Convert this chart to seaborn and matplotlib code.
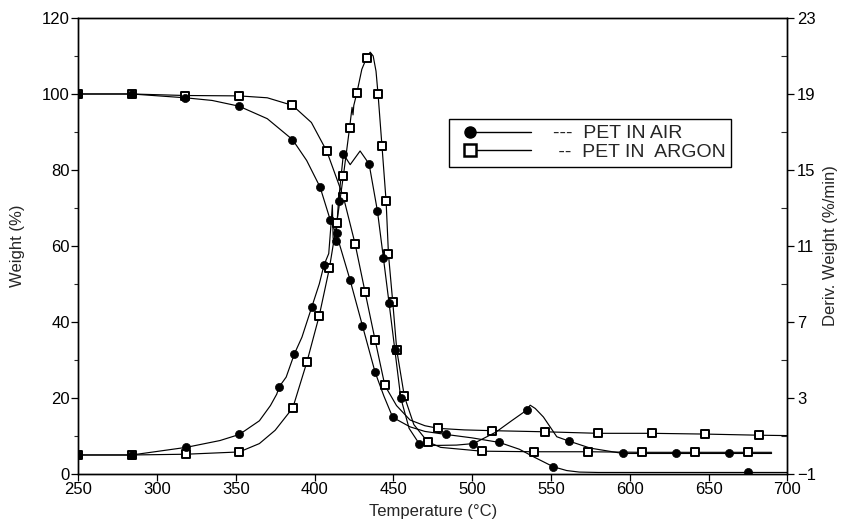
import matplotlib
matplotlib.use("Agg")
import numpy as np
import matplotlib.pyplot as plt
from matplotlib.lines import Line2D
from matplotlib.legend_handler import HandlerLine2D
from matplotlib.ticker import MultipleLocator
import seaborn as sns

# ---- traced curves (temperature in °C) ----
# weight loss, PET in air (%)
air_wt_T = [250, 284, 318, 335, 352, 370, 386, 395, 403.5, 410, 414, 422.5, 430.4, 438.4,
            444, 449.6, 460.6, 470, 483.4, 500, 517.3, 530, 540, 551.5, 560, 568, 580, 620, 675, 700]
air_wt = [100, 100, 99.0, 98.3, 96.8, 93.5, 88, 82.5, 75.5, 66.8, 63.0, 51.1, 39.0, 26.8,
          20.5, 14.9, 12.4, 11.2, 10.4, 9.5, 8.3, 6.5, 4.3, 1.9, 0.9, 0.5, 0.4, 0.4, 0.4, 0.4]

# weight loss, PET in argon (%)
arg_wt_T = [250, 284, 318, 352, 370, 386, 398, 407.8, 418.3, 425.7, 432, 438.4, 444.6, 452,
            460.6, 470, 478.6, 495, 512.4, 546.3, 580, 614, 647.8, 682.3, 700]
arg_wt = [100, 100, 99.6, 99.5, 99.0, 97, 92.5, 84.9, 72.9, 60.6, 48, 35.3, 23.3, 18.0,
          14.2, 12.7, 12.0, 11.6, 11.4, 11.1, 10.7, 10.7, 10.5, 10.2, 10.1]

# derivative weight, PET in air (%/min)
air_dw_T = [250, 284, 318.5, 340, 352.3, 365, 372, 376, 377.5, 382, 387.2, 392, 398.2, 403,
            406, 409, 410.5, 411.3, 411.8, 413.5, 415.2, 418.3, 422.6, 428.9, 434.6, 439.9,
            443.7, 447.3, 451, 454.7, 460, 466.5, 475, 490, 500.8, 515, 525, 534.6, 536.8,
            540, 545.2, 553.7, 561.5, 575, 595.6, 629.2, 663, 690]
air_dw = [0.0, 0.0, 0.40, 0.76, 1.08, 1.80, 2.60, 3.20, 3.58, 4.10, 5.32, 6.20, 7.78, 9.00,
          10.0, 10.6, 12.2, 13.16, 11.4, 11.26, 13.36, 15.84, 15.28, 16.0, 15.32, 12.84,
          10.36, 7.98, 5.50, 3.00, 1.40, 0.58, 0.50, 0.52, 0.60, 1.20, 1.80, 2.36, 2.62,
          2.45, 2.00, 0.96, 0.73, 0.36, 0.08, 0.08, 0.08, 0.08]

# derivative weight, PET in argon (%/min)
arg_dw_T = [250, 284, 318.5, 352.3, 365, 375, 386.2, 395.1, 403, 409.4, 414.1, 418.3, 422.2,
            423.8, 424.4, 424.9, 426.8, 430, 433.1, 435.3, 437.2, 439, 440.3, 442.8, 445.4,
            446.9, 449.6, 452.2, 457, 463, 471.7, 480, 506.1, 539.4, 573.4, 607.6, 641.4,
            675.3, 690]
arg_dw = [0.0, 0.0, 0.04, 0.16, 0.60, 1.30, 2.48, 4.88, 7.34, 9.82, 12.22, 14.70, 17.20,
          18.30, 17.90, 18.40, 19.04, 20.30, 20.92, 21.20, 21.00, 20.20, 18.98, 16.24, 13.36,
          10.56, 8.06, 5.50, 3.08, 1.60, 0.70, 0.40, 0.20, 0.17, 0.17, 0.14, 0.14, 0.14, 0.14]

# ---- symbol positions ----
air_wt_mT = [250, 284, 318, 352, 386, 403.5, 410, 414, 422.5, 430.4, 438.4, 449.6, 483.4,
             517.3, 551.5, 675.3]
air_wt_m = [100, 100, 99.0, 96.8, 88, 75.5, 66.8, 63.3, 51.1, 39.0, 26.8, 14.9, 10.4,
            8.3, 1.9, 0.6]

arg_wt_mT = [250, 284, 318, 352, 386, 407.8, 418.3, 425.7, 432, 438.4, 444.6, 478.6, 512.4,
             546.3, 580, 614, 647.8, 682.3]
arg_wt_m = [100, 100, 99.6, 99.5, 97, 84.9, 72.9, 60.6, 48, 35.3, 23.3, 12.0, 11.4,
            11.1, 10.7, 10.7, 10.5, 10.2]

air_dw_mT = [250, 284, 318.5, 352.3, 377.5, 387.2, 398.2, 406, 413.5, 415.2, 418.3, 434.6,
             439.9, 443.7, 447.3, 451, 454.7, 466.5, 500.8, 534.6, 561.5, 595.6, 629.2, 663]
air_dw_m = [0.0, 0.0, 0.40, 1.08, 3.58, 5.32, 7.78, 10.0, 11.26, 13.36, 15.84, 15.32,
            12.84, 10.36, 7.98, 5.50, 3.00, 0.58, 0.60, 2.36, 0.73, 0.08, 0.08, 0.08]

arg_dw_mT = [250, 284, 318.5, 352.3, 386.2, 395.1, 403, 409.4, 414.1, 418.3, 422.2, 426.8,
             433.1, 440.3, 442.8, 445.4, 446.9, 449.6, 452.2, 457, 471.7, 506.1, 539.4,
             573.4, 607.6, 641.4, 675.3]
arg_dw_m = [0.0, 0.0, 0.04, 0.16, 2.48, 4.88, 7.34, 9.82, 12.22, 14.70, 17.20, 19.04,
            20.92, 18.98, 16.24, 13.36, 10.56, 8.06, 5.50, 3.08, 0.70, 0.20, 0.17, 0.17,
            0.14, 0.14, 0.14]

x_ticks = list(range(250, 701, 50))
left_ticks = list(range(0, 121, 20))
right_ticks = list(range(-1, 24, 4))
legend_labels = ["---  PET IN AIR", " --  PET IN  ARGON"]

sns.set_style("ticks")
plt.rcParams["font.family"] = ["Liberation Sans", "DejaVu Sans"]
plt.rcParams["font.size"] = 12

fig = plt.figure(figsize=(8.43, 5.26), dpi=100)
ax = fig.add_axes([0.0927, 0.0989, 0.8413, 0.8669])
ax2 = ax.twinx()

LW = 0.85
circ = dict(marker="o", s=34, color="black", edgecolor="black", linewidth=0.5, zorder=4)
sq = dict(marker="s", s=30, facecolor="white", edgecolor="black", linewidth=1.4, zorder=3)

sns.lineplot(x=air_wt_T, y=air_wt, ax=ax, color="black", lw=LW, estimator=None, sort=False)
sns.lineplot(x=arg_wt_T, y=arg_wt, ax=ax, color="black", lw=LW, estimator=None, sort=False)
sns.scatterplot(x=arg_wt_mT, y=arg_wt_m, ax=ax, **sq)
sns.scatterplot(x=air_wt_mT, y=air_wt_m, ax=ax, **circ)

sns.lineplot(x=air_dw_T, y=air_dw, ax=ax2, color="black", lw=LW, estimator=None, sort=False)
sns.lineplot(x=arg_dw_T, y=arg_dw, ax=ax2, color="black", lw=LW, estimator=None, sort=False)
sns.scatterplot(x=arg_dw_mT, y=arg_dw_m, ax=ax2, **sq)
sns.scatterplot(x=air_dw_mT, y=air_dw_m, ax=ax2, **circ)

ax.set_xlim(250, 700)
ax.set_ylim(0, 120)
ax2.set_ylim(-1, 23)
ax.set_xticks(x_ticks)
ax.set_yticks(left_ticks)
ax2.set_yticks(right_ticks)
ax.yaxis.set_minor_locator(MultipleLocator(10))
ax2.set_yticks(list(range(1, 23, 4)), minor=True)

for a in (ax, ax2):
    for s in a.spines.values():
        s.set_color("black")
        s.set_linewidth(1.0)
ax.tick_params(axis="both", which="major", direction="out", length=5, width=0.9,
               colors="black", labelsize=12, pad=1)
ax.tick_params(axis="y", which="minor", direction="out", length=3, width=0.8)
ax2.tick_params(axis="y", which="major", direction="out", length=5, width=0.9,
                colors="black", labelsize=12, pad=2)
ax2.tick_params(axis="y", which="minor", direction="in", length=4, width=0.8)

ax.set_xlabel("Temperature (°C)", fontsize=12, labelpad=5)
ax.set_ylabel("Weight (%)", fontsize=12, labelpad=12)
ax2.set_ylabel("Deriv. Weight (%/min)", fontsize=12, labelpad=5)


class MarkerAtStart(HandlerLine2D):
    """Legend handle with the symbol at the left end of the line."""

    def create_artists(self, legend, orig_handle, xdescent, ydescent, width, height,
                       fontsize, trans):
        arts = super().create_artists(legend, orig_handle, xdescent, ydescent, width,
                                      height, fontsize, trans)
        shift = 0.5 * fontsize
        for a in arts:
            a.set_xdata(np.asarray(a.get_xdata(), dtype=float) + shift)
            if a.get_marker() not in (None, "None", "", " "):
                a.set_markevery([0])
        return arts


h_air = Line2D([0, 1], [0, 0], color="black", lw=1.0, marker="o", markersize=8,
               markerfacecolor="black", markeredgecolor="black")
h_arg = Line2D([0, 1], [0, 0], color="black", lw=1.0, marker="s", markersize=8.5,
               markerfacecolor="white", markeredgecolor="black", markeredgewidth=1.8)
leg = ax.legend([h_air, h_arg], legend_labels,
                handler_map={Line2D: MarkerAtStart(numpoints=2)},
                loc="upper left", bbox_to_anchor=(0.523, 0.7785), borderaxespad=0,
                fontsize=14, frameon=True, fancybox=False, edgecolor="black",
                framealpha=1, handlelength=3.7, handletextpad=1.34, labelspacing=0.05,
                borderpad=0.3)
leg.get_frame().set_linewidth(1.0)

fig.savefig("out.png", dpi=100)
